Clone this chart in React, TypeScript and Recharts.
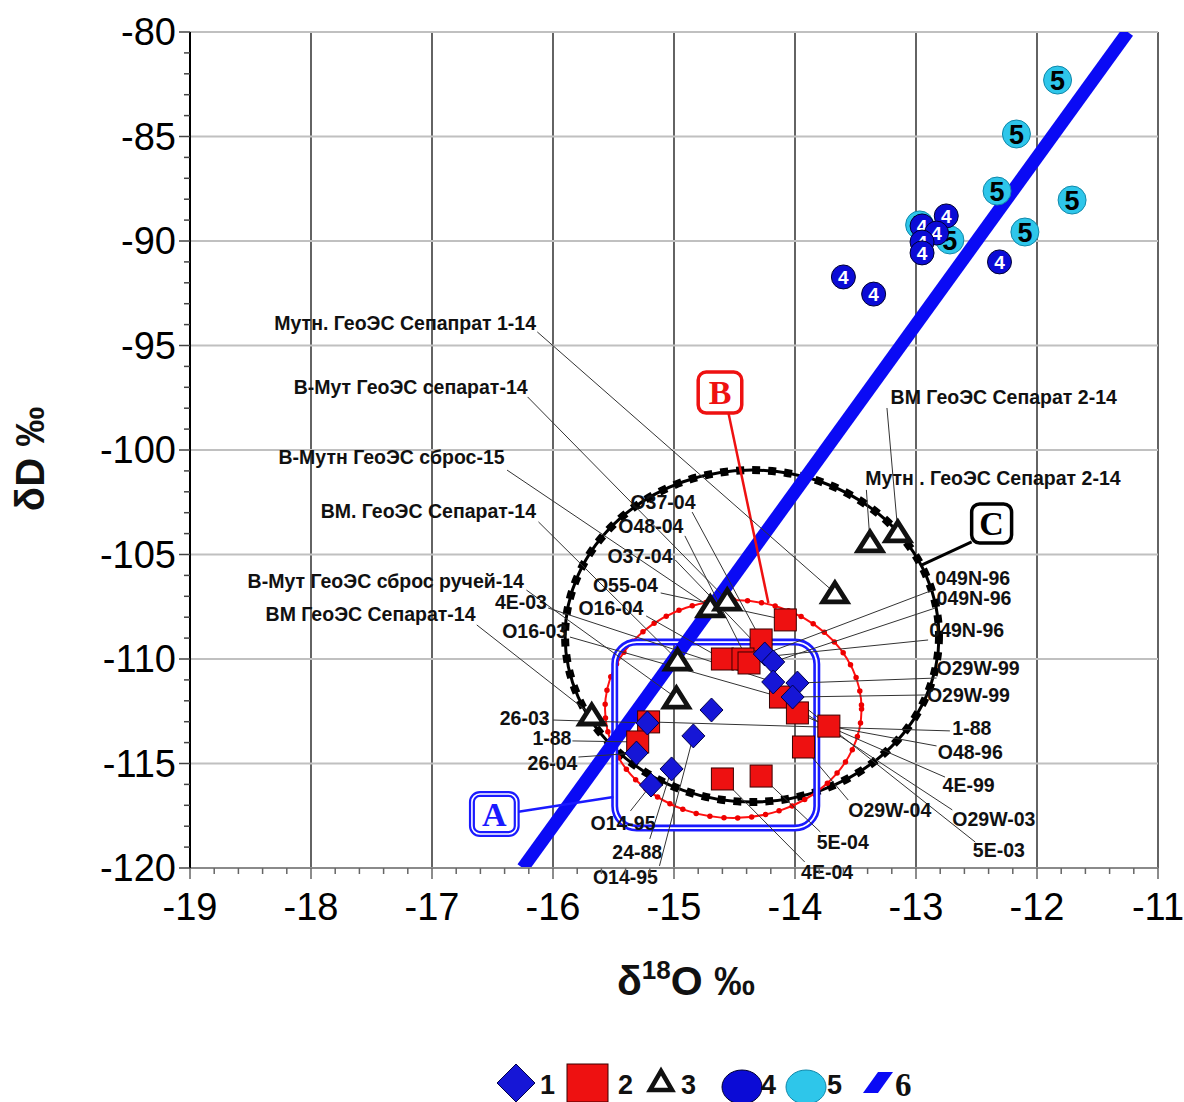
import React from 'react';
import {
  ComposedChart, XAxis, YAxis, CartesianGrid, Scatter, Line,
  ReferenceArea, ReferenceLine, ReferenceDot,
} from 'recharts';

const FONT = "'Liberation Sans', Arial, Helvetica, sans-serif";
const SERIF = "'Liberation Serif', 'Times New Roman', serif";

// ---- axes ----
const xMajorTicks = [-19, -18, -17, -16, -15, -14, -13, -12, -11];
const yMajorTicks = [-120, -115, -110, -105, -100, -95, -90, -85, -80];
const xMinorTicks: number[] = [];
for (let i = 0; i <= 40; i++) xMinorTicks.push(Math.round((-19 + i * 0.2) * 10) / 10);
const yMinorTicks: number[] = [];
for (let v = -120; v <= -80; v++) yMinorTicks.push(v);

// ---- series 1: diamonds ----
const series1 = [
  { x: -14.25, y: -109.76 }, { x: -14.18, y: -110.14 }, { x: -14.18, y: -111.1 },
  { x: -13.98, y: -111.15 }, { x: -14.02, y: -111.82 }, { x: -14.69, y: -112.44 },
  { x: -15.22, y: -113.06 }, { x: -14.84, y: -113.68 }, { x: -15.31, y: -114.5 },
  { x: -15.02, y: -115.26 }, { x: -15.19, y: -116.03 },
];
// ---- series 2: squares ----
const series2 = [
  { x: -14.08, y: -108.13 }, { x: -14.28, y: -109.09 }, { x: -14.6, y: -110.0 },
  { x: -14.43, y: -110.0 }, { x: -14.38, y: -110.19 }, { x: -14.12, y: -111.82 },
  { x: -13.98, y: -112.58 }, { x: -13.72, y: -113.21 }, { x: -13.93, y: -114.21 },
  { x: -15.21, y: -113.01 }, { x: -15.3, y: -113.97 }, { x: -14.6, y: -115.74 },
  { x: -14.28, y: -115.6 },
];
// ---- series 3: triangles ----
const series3 = [
  { x: -14.7, y: -107.51 }, { x: -14.56, y: -107.18 }, { x: -13.67, y: -106.84 },
  { x: -14.97, y: -110.05 }, { x: -14.98, y: -111.87 }, { x: -15.68, y: -112.68 },
  { x: -13.38, y: -104.4 }, { x: -13.15, y: -103.92 },
];
// ---- series 4: dark blue circles ----
const series4 = [
  { x: -13.6, y: -91.72 }, { x: -13.35, y: -92.54 }, { x: -12.75, y: -88.8 },
  { x: -12.95, y: -89.28 }, { x: -12.83, y: -89.62 }, { x: -12.95, y: -90.05 },
  { x: -12.95, y: -90.57 }, { x: -12.31, y: -91.0 },
];
// ---- series 5: cyan circles ----
const series5 = [
  { x: -11.83, y: -82.3 }, { x: -12.17, y: -84.88 }, { x: -12.33, y: -87.61 },
  { x: -11.71, y: -88.04 }, { x: -12.1, y: -89.57 }, { x: -12.72, y: -89.95 },
  { x: -12.97, y: -89.23 },
];
// ---- series 6: meteoric water line ----
const series6 = [{ x: -16.25, y: -120 }, { x: -11.25, y: -80 }];

// ---- labelled points (text pos, leader start, target) ----
type Lbl = { text: string; x: number; y: number; anchor: 'start' | 'end'; lx: number; ly: number; tx: number; ty: number };
const sampleLabels: Lbl[] = [
  { text: 'Мутн. ГеоЭС Сепапрат 1-14', x: -16.14, y: -93.92, anchor: 'end', lx: -16.13, ly: -94.35, tx: -13.67, ty: -106.84 },
  { text: 'В-Мут ГеоЭС сепарат-14', x: -16.21, y: -96.99, anchor: 'end', lx: -16.21, ly: -97.46, tx: -14.56, ty: -107.18 },
  { text: 'В-Мутн ГеоЭС сброс-15', x: -16.4, y: -100.33, anchor: 'end', lx: -16.38, ly: -100.96, tx: -14.7, ty: -107.51 },
  { text: 'ВМ. ГеоЭС Сепарат-14', x: -16.14, y: -102.92, anchor: 'end', lx: -16.12, ly: -103.44, tx: -14.97, ty: -110.05 },
  { text: 'В-Мут ГеоЭС сброс ручей-14', x: -16.24, y: -106.27, anchor: 'end', lx: -16.22, ly: -106.7, tx: -14.98, ty: -111.87 },
  { text: 'ВМ ГеоЭС Сепарат-14', x: -16.64, y: -107.85, anchor: 'end', lx: -16.63, ly: -108.37, tx: -15.68, ty: -112.68 },
  { text: 'ВМ ГеоЭС Сепарат 2-14', x: -13.21, y: -97.46, anchor: 'start', lx: -13.24, ly: -97.99, tx: -13.15, ty: -103.92 },
  { text: 'Мутн . ГеоЭС Сепарат 2-14', x: -13.42, y: -101.34, anchor: 'start', lx: -13.41, ly: -101.91, tx: -13.38, ty: -104.4 },
  { text: 'O37-04', x: -15.36, y: -102.49, anchor: 'start', lx: -14.85, ly: -102.97, tx: -14.28, ty: -109.09 },
  { text: 'O48-04', x: -15.46, y: -103.64, anchor: 'start', lx: -14.91, ly: -104.11, tx: -14.38, ty: -110.19 },
  { text: 'O37-04', x: -15.55, y: -105.07, anchor: 'start', lx: -14.99, ly: -105.26, tx: -14.18, ty: -110.14 },
  { text: 'O55-04', x: -15.67, y: -106.46, anchor: 'start', lx: -15.11, ly: -106.84, tx: -14.08, ty: -108.13 },
  { text: 'O16-04', x: -15.79, y: -107.56, anchor: 'start', lx: -15.23, ly: -107.94, tx: -14.6, ty: -110.0 },
  { text: '4E-03', x: -16.48, y: -107.27, anchor: 'start', lx: -16.04, ly: -107.56, tx: -14.18, ty: -111.1 },
  { text: 'O16-03', x: -16.42, y: -108.66, anchor: 'start', lx: -15.86, ly: -108.95, tx: -14.12, ty: -111.82 },
  { text: '26-03', x: -16.44, y: -112.82, anchor: 'start', lx: -16.0, ly: -112.92, tx: -15.22, ty: -113.06 },
  { text: '1-88', x: -16.17, y: -113.78, anchor: 'start', lx: -15.84, ly: -113.92, tx: -15.3, ty: -113.97 },
  { text: '26-04', x: -16.21, y: -114.98, anchor: 'start', lx: -15.79, ly: -114.69, tx: -15.31, ty: -114.5 },
  { text: 'O14-95', x: -15.69, y: -117.85, anchor: 'start', lx: -15.36, ly: -117.27, tx: -15.19, ty: -116.03 },
  { text: '24-88', x: -15.51, y: -119.23, anchor: 'start', lx: -15.2, ly: -118.61, tx: -15.02, ty: -115.26 },
  { text: 'O14-95', x: -15.67, y: -120.43, anchor: 'start', lx: -15.12, ly: -119.9, tx: -14.84, ty: -113.68 },
  { text: '4E-04', x: -13.95, y: -120.19, anchor: 'start', lx: -13.92, ly: -119.71, tx: -14.6, ty: -115.74 },
  { text: '5E-04', x: -13.82, y: -118.76, anchor: 'start', lx: -13.79, ly: -118.28, tx: -14.28, ty: -115.6 },
  { text: 'O29W-04', x: -13.56, y: -117.22, anchor: 'start', lx: -13.56, ly: -116.75, tx: -13.93, ty: -114.21 },
  { text: '5E-03', x: -12.53, y: -119.14, anchor: 'start', lx: -12.51, ly: -118.76, tx: -14.18, ty: -111.1 },
  { text: 'O29W-03', x: -12.7, y: -117.66, anchor: 'start', lx: -12.7, ly: -117.22, tx: -14.12, ty: -111.82 },
  { text: '4E-99', x: -12.78, y: -116.03, anchor: 'start', lx: -12.76, ly: -115.65, tx: -13.98, ty: -112.58 },
  { text: 'O48-96', x: -12.82, y: -114.45, anchor: 'start', lx: -12.83, ly: -114.16, tx: -13.72, ty: -113.21 },
  { text: '1-88', x: -12.7, y: -113.3, anchor: 'start', lx: -12.72, ly: -113.44, tx: -15.21, ty: -113.01 },
  { text: 'O29W-99', x: -12.91, y: -111.72, anchor: 'start', lx: -12.91, ly: -111.72, tx: -14.02, ty: -111.82 },
  { text: 'O29W-99', x: -12.83, y: -110.43, anchor: 'start', lx: -12.83, ly: -110.91, tx: -13.98, ty: -111.15 },
  { text: '049N-96', x: -12.89, y: -108.61, anchor: 'start', lx: -12.9, ly: -109.09, tx: -14.43, ty: -110.0 },
  { text: '049N-96', x: -12.83, y: -107.08, anchor: 'start', lx: -12.84, ly: -107.56, tx: -14.18, ty: -110.14 },
  { text: '049N-96', x: -12.84, y: -106.12, anchor: 'start', lx: -12.86, ly: -106.7, tx: -14.25, ty: -109.76 },
];

// ---- outlined regions ----
const regionA = { x1: -15.49, x2: -13.82, y1: -118.09, y2: -109.19 };
const regionB = { x1: -15.57, x2: -13.45, y1: -117.61, y2: -107.18 };
const regionC = { x1: -15.9, x2: -12.81, y1: -116.84, y2: -100.96 };
const letterBoxes = [
  { letter: 'A', x1: -16.67, x2: -16.3, y1: -118.37, y2: -116.46, lx: -16.3, ly: -117.32, tx: -15.5, ty: -116.6, color: '#1a1aff' },
  { letter: 'B', x1: -14.8, x2: -14.44, y1: -98.23, y2: -96.27, lx: -14.55, ly: -98.23, tx: -14.22, ty: -107.32, color: '#ee1111' },
  { letter: 'C', x1: -12.54, x2: -12.21, y1: -104.45, y2: -102.58, lx: -12.54, ly: -104.4, tx: -12.95, ty: -105.5, color: '#000000' },
];

// ---- shapes ----
const Diamond = (p: any) => {
  const { cx, cy } = p;
  return <path d={`M${cx},${cy - 12}L${cx + 11.5},${cy}L${cx},${cy + 12}L${cx - 11.5},${cy}Z`} fill="#1616d6" stroke="#00004a" strokeWidth={1} />;
};
const Square = (p: any) => <rect x={p.cx - 11} y={p.cy - 11} width={22} height={22} fill="#ee1111" stroke="#3a0000" strokeWidth={1} />;
const Triangle = (p: any) => {
  const { cx, cy } = p;
  return <path d={`M${cx},${cy - 10}L${cx + 12},${cy + 9}L${cx - 12},${cy + 9}Z`} fill="#ffffff" stroke="#111111" strokeWidth={4.8} strokeLinejoin="miter" />;
};
const Circle4 = (p: any) => (
  <g>
    <circle cx={p.cx} cy={p.cy} r={12} fill="#0b0bd6" stroke="#000030" strokeWidth={1} />
    <text x={p.cx} y={p.cy} dy="0.36em" textAnchor="middle" fontFamily={FONT} fontWeight="bold" fontSize={19} fill="#ffffff">4</text>
  </g>
);
const Circle5 = (p: any) => (
  <g>
    <circle cx={p.cx} cy={p.cy} r={14} fill="#2ec6ea" stroke="#1088aa" strokeWidth={1} />
    <text x={p.cx} y={p.cy} dy="0.36em" textAnchor="middle" fontFamily={FONT} fontWeight="bold" fontSize={27} fill="#000000">5</text>
  </g>
);

const RedEllipse = (p: any) => {
  const cx = p.x + p.width / 2, cy = p.y + p.height / 2;
  return (
    <g>
      <ellipse cx={cx} cy={cy} rx={p.width / 2} ry={p.height / 2} fill="none" stroke="#ff1010" strokeWidth={2} />
      <ellipse cx={cx} cy={cy} rx={p.width / 2} ry={p.height / 2} fill="none" stroke="#ee0000" strokeWidth={5.5} strokeDasharray="0 14" strokeLinecap="round" />
    </g>
  );
};
const BlackEllipse = (p: any) => {
  const cx = p.x + p.width / 2, cy = p.y + p.height / 2;
  return (
    <g>
      <ellipse cx={cx} cy={cy} rx={p.width / 2} ry={p.height / 2} fill="none" stroke="#000" strokeWidth={3} />
      <ellipse cx={cx} cy={cy} rx={p.width / 2} ry={p.height / 2} fill="none" stroke="#000" strokeWidth={8} strokeDasharray="8 8" />
    </g>
  );
};
const BlueRoundRect = (p: any) => (
  <g>
    <rect x={p.x} y={p.y} width={p.width} height={p.height} rx={22} ry={22} fill="none" stroke="#1a1aff" strokeWidth={7} />
    <rect x={p.x} y={p.y} width={p.width} height={p.height} rx={22} ry={22} fill="none" stroke="#ffffff" strokeWidth={1.8} />
  </g>
);
const makeLetterBox = (letter: string, color: string) => (p: any) => (
  <g>
    <rect x={p.x} y={p.y} width={p.width} height={p.height} rx={8} ry={8} fill="#ffffff" stroke={color} strokeWidth={letter === 'A' ? 6 : 3.5} />
    {letter === 'A' && <rect x={p.x} y={p.y} width={p.width} height={p.height} rx={8} ry={8} fill="none" stroke="#ffffff" strokeWidth={1.6} />}
    <text x={p.x + p.width / 2} y={p.y + p.height / 2} dy="0.35em" textAnchor="middle" fontFamily={SERIF} fontWeight="bold" fontSize={34} fill={color}>{letter}</text>
  </g>
);

// ---- ticks ----
const isMajor = (v: number, step: number) => Math.abs(v / step - Math.round(v / step)) < 1e-6;
const XTickBottom = (p: any) => {
  const v = p.payload.value;
  const major = isMajor(v, 1);
  return (
    <g>
      <line x1={p.x} y1={p.y} x2={p.x} y2={p.y + (major ? 11 : 6)} stroke="#666" strokeWidth={1.5} />
      {major && <text x={p.x} y={p.y + 52} textAnchor="middle" fontFamily={FONT} fontSize={38} fill="#000">{v}</text>}
    </g>
  );
};
const XTickTop = (p: any) => {
  const v = p.payload.value;
  const major = isMajor(v, 1);
  return <line x1={p.x} y1={p.y} x2={p.x} y2={p.y - (major ? 11 : 6)} stroke="#444" strokeWidth={1.5} />;
};
const YTickLeft = (p: any) => {
  const v = p.payload.value;
  const major = isMajor(v, 5);
  return (
    <g>
      <line x1={p.x} y1={p.y} x2={p.x - (major ? 11 : 6)} y2={p.y} stroke="#444" strokeWidth={1.5} />
      {major && <text x={p.x - 14} y={p.y + 13} textAnchor="end" fontFamily={FONT} fontSize={38} fill="#000">{v}</text>}
    </g>
  );
};
const YTickRight = (p: any) => {
  const v = p.payload.value;
  const major = isMajor(v, 5);
  return <line x1={p.x} y1={p.y} x2={p.x + (major ? 11 : 7)} y2={p.y} stroke="#222" strokeWidth={1.5} />;
};

const labelText = (l: Lbl) => (p: any) => (
  <text x={p.cx} y={p.cy} dy="0.36em" textAnchor={l.anchor} fontFamily={FONT} fontWeight="bold" fontSize={19.5} fill="#111">{l.text}</text>
);

export default function App() {
  return (
    <div style={{ position: 'absolute', left: 0, top: 0, width: 1184, height: 1102, background: '#fff' }}>
      <ComposedChart width={1184} height={1102} margin={{ top: 32, right: 26, left: 0, bottom: 0 }}>
        <CartesianGrid horizontal={false} verticalValues={xMajorTicks} stroke="#222" strokeWidth={1.4} />
        <CartesianGrid vertical={false} horizontalValues={yMajorTicks} stroke="#c0c0c0" strokeWidth={2} />
        <XAxis xAxisId={0} type="number" dataKey="x" domain={[-19, -11]} allowDataOverflow ticks={xMinorTicks} interval={0}
          height={234} tickSize={0} tickMargin={0} tickLine={false} tick={<XTickBottom />} axisLine={{ stroke: '#8a8a8a', strokeWidth: 2 }} />
        <XAxis xAxisId="top" orientation="top" type="number" dataKey="x" domain={[-19, -11]} allowDataOverflow ticks={xMinorTicks} interval={0}
          height={0} tickSize={0} tickMargin={0} tickLine={false} tick={<XTickTop />} axisLine={{ stroke: '#8a8a8a', strokeWidth: 2 }} />
        <YAxis yAxisId={0} type="number" dataKey="y" domain={[-120, -80]} allowDataOverflow ticks={yMinorTicks} interval={0}
          width={190} tickSize={0} tickMargin={0} tickLine={false} tick={<YTickLeft />} axisLine={{ stroke: '#000', strokeWidth: 2 }} />
        <YAxis yAxisId="right" orientation="right" type="number" dataKey="y" domain={[-120, -80]} allowDataOverflow ticks={yMinorTicks} interval={0}
          width={0} tickSize={0} tickMargin={0} tickLine={false} tick={<YTickRight />} axisLine={{ stroke: '#000', strokeWidth: 2 }} />

        <ReferenceArea {...regionC} ifOverflow="visible" shape={BlackEllipse} zIndex={110} />
        <ReferenceArea {...regionB} ifOverflow="visible" shape={RedEllipse} zIndex={111} />
        <ReferenceArea {...regionA} ifOverflow="visible" shape={BlueRoundRect} zIndex={112} />

        <Line data={series6} dataKey="y" stroke="#0a0af5" strokeWidth={13} dot={false} activeDot={false} isAnimationActive={false} legendType="none" zIndex={120} />

        {letterBoxes.map((b, i) => (
          <ReferenceLine key={'bl' + i} segment={[{ x: b.lx, y: b.ly }, { x: b.tx, y: b.ty }]} stroke={b.color} strokeWidth={b.letter === 'C' ? 3 : 2.5} ifOverflow="visible" zIndex={130} />
        ))}
        {sampleLabels.map((l, i) => (
          <ReferenceLine key={'ll' + i} segment={[{ x: l.lx, y: l.ly }, { x: l.tx, y: l.ty }]} stroke="#333" strokeWidth={1} ifOverflow="visible" zIndex={140} />
        ))}

        <Scatter name="2" data={series2} fill="#ee1111" shape={Square} isAnimationActive={false} zIndex={600} />
        <Scatter name="1" data={series1} fill="#1616d6" shape={Diamond} isAnimationActive={false} zIndex={601} />
        <Scatter name="3" data={series3} fill="#111" shape={Triangle} isAnimationActive={false} zIndex={602} />
        <Scatter name="5" data={series5} fill="#2ec6ea" shape={Circle5} isAnimationActive={false} zIndex={603} />
        <Scatter name="4" data={series4} fill="#0b0bd6" shape={Circle4} isAnimationActive={false} zIndex={604} />

        {letterBoxes.map((b, i) => (
          <ReferenceArea key={'lb' + i} x1={b.x1} x2={b.x2} y1={b.y1} y2={b.y2} ifOverflow="visible" shape={makeLetterBox(b.letter, b.color)} zIndex={700} />
        ))}
        {sampleLabels.map((l, i) => (
          <ReferenceDot key={'lt' + i} x={l.x} y={l.y} r={0} ifOverflow="visible" shape={labelText(l)} zIndex={710} />
        ))}
      </ComposedChart>

      <svg width={1184} height={1102} style={{ position: 'absolute', left: 0, top: 0, pointerEvents: 'none' }}>
        {/* axis titles */}
        <text x={686} y={995} textAnchor="middle" fontFamily={FONT} fontWeight="bold" fontSize={41} fill="#111">
          <tspan>δ</tspan>
          <tspan fontSize={26} dy={-16}>18</tspan>
          <tspan dy={16}>O ‰</tspan>
        </text>
        <text transform="translate(44,459) rotate(-90)" textAnchor="middle" fontFamily={FONT} fontWeight="bold" fontSize={40} fill="#111">δD ‰</text>

        {/* legend */}
        <path d="M516,1064L535,1083L516,1102L497,1083Z" fill="#1616d6" stroke="#00004a" strokeWidth={1} />
        <text x={540} y={1094} fontFamily={FONT} fontWeight="bold" fontSize={27} fill="#111">1</text>
        <rect x={567} y={1064} width={41} height={38} fill="#ee1111" stroke="#3a0000" strokeWidth={1} />
        <text x={618} y={1094} fontFamily={FONT} fontWeight="bold" fontSize={27} fill="#111">2</text>
        <path d="M661,1071L672,1090L650,1090Z" fill="#fff" stroke="#111" strokeWidth={4.5} />
        <text x={681} y={1094} fontFamily={FONT} fontWeight="bold" fontSize={27} fill="#111">3</text>
        <ellipse cx={742} cy={1087} rx={20} ry={17} fill="#0b0bd6" stroke="#000030" strokeWidth={1} />
        <text x={761} y={1094} fontFamily={FONT} fontWeight="bold" fontSize={27} fill="#111">4</text>
        <ellipse cx={806} cy={1087} rx={20} ry={17} fill="#2ec6ea" stroke="#1088aa" strokeWidth={1} />
        <text x={827} y={1094} fontFamily={FONT} fontWeight="bold" fontSize={27} fill="#111">5</text>
        <path d="M863,1093L878,1072L893,1072L878,1093Z" fill="#0a0af5" />
        <text x={895} y={1096} fontFamily={SERIF} fontWeight="bold" fontSize={33} fill="#111">6</text>
      </svg>
    </div>
  );
}
